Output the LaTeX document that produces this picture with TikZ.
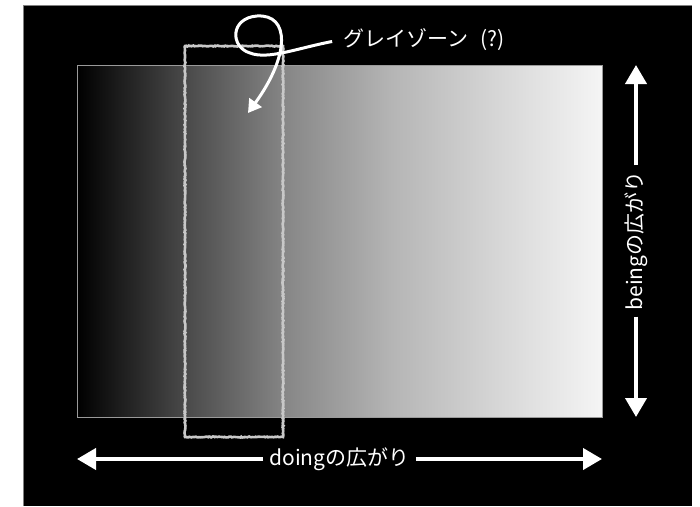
\documentclass[tikz,border=0pt]{standalone}
\usepackage{fontspec}
\setmainfont{Noto Sans CJK JP}
\definecolor{zonegray}{RGB}{200,200,200}
\definecolor{edgegray}{RGB}{128,128,128}
\usetikzlibrary{arrows.meta,positioning,decorations.pathmorphing}
\pgfdeclarehorizontalshading{fieldfade}{100bp}{color(0bp)=(black); color(25bp)=(black);
  color(35bp)=(black!72); color(45bp)=(black!47); color(55bp)=(black!29);
  color(65bp)=(black!16); color(75bp)=(black!4); color(100bp)=(black!4)}

\begin{document}
\begin{tikzpicture}[
  x=1pt,y=-1pt,
  lbl/.style={text=white,fill=black,inner sep=6pt,font=\fontsize{21pt}{25pt}\selectfont},
  span/.style={draw=white,line width=4pt,-{Triangle[length=19pt,width=21pt]}},
  pointer/.style={draw=white,line width=3pt,-{Triangle[length=13pt,width=15pt]}},
  sketch/.style={draw=zonegray,line width=2.6pt,decorate,
    decoration={random steps,segment length=1.2pt,amplitude=0.5pt}}
]
  \useasboundingbox (0,0) rectangle (700,506);
  \fill[white] (0,0) rectangle (700,506);
  % board
  \fill[black] (23,5) rectangle (692,506);
  \draw[edgegray,line width=0.8pt] (23,506) -- (23,5) -- (692,5);
  % gradient field
  \shade[shading=fieldfade] (77,65) rectangle (602,417);
  \draw[edgegray!80!white,line width=0.8pt] (77,65) rectangle (602,417);
  % grey zone
  \draw[sketch] (185,46) rectangle (283,437);
  % labels
  \node[lbl,anchor=west,inner sep=3pt] (grayzone) at (340,40) {グレイゾーン\hspace{0.6em}(?)};
  \node[lbl] (doing) at (339.5,459) {doingの広がり};
  \node[lbl,rotate=90] (being) at (636,241) {beingの広がり};
  \coordinate (dl) at (77,459);
  \coordinate (dr) at (602,459);
  \coordinate (bt) at (636,65);
  \coordinate (bb) at (636,417);
  \coordinate (tip) at (248,113);
  % arrows
  \draw[span] (doing) -- (dl);
  \draw[span] (doing) -- (dr);
  \draw[span] (being) -- (bt);
  \draw[span] (being) -- (bb);
  \draw[pointer,shorten <=8pt] (grayzone.west) .. controls (298,48) and (268,60) .. (250,53)
    .. controls (230,47) and (230,18) .. (257,16)
    .. controls (290,14) and (290,55) .. (tip);
\end{tikzpicture}
\end{document}
